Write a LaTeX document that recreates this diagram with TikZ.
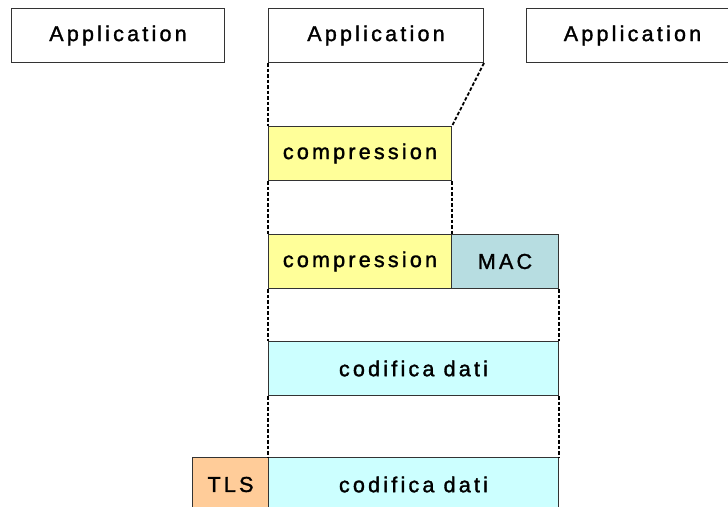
\documentclass[tikz,border=0pt]{standalone}
\usepackage{fontspec}
\newfontfamily\lblfont[LetterSpace=15,FakeBold=1.5]{Liberation Sans}
\definecolor{bordergray}{HTML}{333333}
\definecolor{compyellow}{HTML}{FFFF99}
\definecolor{macteal}{HTML}{B7DDE1}
\definecolor{codcyan}{HTML}{CCFFFF}
\definecolor{tlsorange}{HTML}{FFCC99}
\tikzset{
  layerbox/.style={draw=bordergray, line width=1pt, rectangle, anchor=north west, inner sep=0pt,
    font=\lblfont\fontsize{21.5pt}{25pt}\selectfont, text=black, minimum height=54pt},
  guide/.style={draw=black, line width=1.8pt, dash pattern=on 3.5pt off 2pt}
}
\begin{document}
\begin{tikzpicture}[x=1pt,y=-1pt]
\useasboundingbox (0,0) rectangle (728,506);
\clip (0,0) rectangle (728,506);
\node[layerbox, minimum width=213pt] (app1) at (11,8) {Application};
\node[layerbox, minimum width=215pt] (app2) at (268,8) {Application};
\node[layerbox, minimum width=212pt] (app3) at (526,8) {Application};
\node[layerbox, fill=compyellow, minimum width=183pt] (comp1) at (268,126) {compression};
\node[layerbox, fill=compyellow, minimum width=183pt] (comp2) at (268,234) {compression};
\node[layerbox, fill=macteal, minimum width=107pt] (mac) at (451,234) {MAC};
\node[layerbox, fill=codcyan, minimum width=290pt] (cod1) at (268,341) {codifica dati};
\node[layerbox, fill=codcyan, minimum width=290pt] (cod2) at (268,457) {codifica dati};
\node[layerbox, fill=tlsorange, minimum width=76pt] (tls) at (192,457) {TLS};
% guides
\draw[guide] (app2.south west) -- (comp1.north west);
\draw[guide] (app2.south east) -- (comp1.north east);
\draw[guide] (comp1.south west) -- (comp2.north west);
\draw[guide] (comp1.south east) -- (comp2.north east);
\draw[guide] (comp2.south west) -- (cod1.north west);
\draw[guide] (mac.south east) -- (cod1.north east);
\draw[guide] (cod1.south west) -- (cod2.north west);
\draw[guide] (cod1.south east) -- (cod2.north east);
\end{tikzpicture}
\end{document}
